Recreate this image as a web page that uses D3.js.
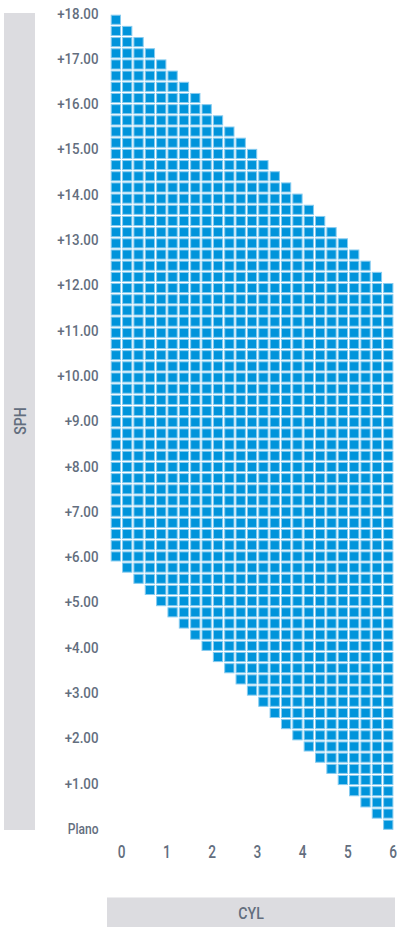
<!DOCTYPE html>
<html>
<head>
<meta charset="utf-8">
<script src="https://cdn.jsdelivr.net/npm/d3@7"></script>
<style>
  html, body { margin: 0; padding: 0; background: #ffffff; }
  svg { display: block; }
  text { font-family: Roboto, "Noto Sans", sans-serif; fill: #636e7e; font-weight: 500; }
</style>
</head>
<body>
<svg id="chart" width="397" height="927"></svg>
<script>
// ---- Data ----
const cylValues = [0, 0.25, 0.5, 0.75, 1, 1.25, 1.5, 1.75, 2, 2.25, 2.5, 2.75, 3,
  3.25, 3.5, 3.75, 4, 4.25, 4.5, 4.75, 5, 5.25, 5.5, 5.75, 6];
const sphMaxByCyl = [18, 17.75, 17.5, 17.25, 17, 16.75, 16.5, 16.25, 16, 15.75, 15.5, 15.25, 15,
  14.75, 14.5, 14.25, 14, 13.75, 13.5, 13.25, 13, 12.75, 12.5, 12.25, 12];
const sphMinByCyl = [6, 5.75, 5.5, 5.25, 5, 4.75, 4.5, 4.25, 4, 3.75, 3.5, 3.25, 3,
  2.75, 2.5, 2.25, 2, 1.75, 1.5, 1.25, 1, 0.75, 0.5, 0.25, 0];
const sphValues = [18, 17.75, 17.5, 17.25, 17, 16.75, 16.5, 16.25, 16, 15.75, 15.5, 15.25,
  15, 14.75, 14.5, 14.25, 14, 13.75, 13.5, 13.25, 13, 12.75, 12.5, 12.25,
  12, 11.75, 11.5, 11.25, 11, 10.75, 10.5, 10.25, 10, 9.75, 9.5, 9.25,
  9, 8.75, 8.5, 8.25, 8, 7.75, 7.5, 7.25, 7, 6.75, 6.5, 6.25,
  6, 5.75, 5.5, 5.25, 5, 4.75, 4.5, 4.25, 4, 3.75, 3.5, 3.25,
  3, 2.75, 2.5, 2.25, 2, 1.75, 1.5, 1.25, 1, 0.75, 0.5, 0.25, 0];
const sphTicks = [18, 17, 16, 15, 14, 13, 12, 11, 10, 9, 8, 7, 6, 5, 4, 3, 2, 1, 0];
const sphTickLabels = ["+18.00", "+17.00", "+16.00", "+15.00", "+14.00", "+13.00", "+12.00",
  "+11.00", "+10.00", "+9.00", "+8.00", "+7.00", "+6.00", "+5.00", "+4.00", "+3.00",
  "+2.00", "+1.00", "Plano"];
const cylTicks = [0, 1, 2, 3, 4, 5, 6];
const cylTickLabels = ["0", "1", "2", "3", "4", "5", "6"];
const xTitle = "CYL";
const yTitle = "SPH";

// ---- Cells ----
const cells = [];
cylValues.forEach((c, i) => {
  sphValues.forEach(s => {
    if (s <= sphMaxByCyl[i] && s >= sphMinByCyl[i]) cells.push({cyl: c, sph: s});
  });
});

const svg = d3.select("#chart");

const x = d3.scaleBand().domain(cylValues).range([110.7, 393.4]).paddingInner(0.093).paddingOuter(0);
const y = d3.scaleBand().domain(sphValues).range([14.7, 829.8]).paddingInner(0.097).paddingOuter(0);

// label scales
const xl = d3.scaleLinear().domain([0, 6]).range([121.6, 393.2]);
const yl = d3.scaleLinear().domain([0, 18]).range([829, 13.8]);

// gray title bars
svg.append("rect").attr("x", 4).attr("y", 13).attr("width", 31).attr("height", 817).attr("fill", "#dcdce0");
svg.append("rect").attr("x", 107).attr("y", 897.5).attr("width", 288).attr("height", 30).attr("fill", "#dcdce0");

svg.append("g").selectAll("rect").data(cells).join("rect")
  .attr("x", d => x(d.cyl) + 0.5)
  .attr("y", d => y(d.sph) + 0.5)
  .attr("width", x.bandwidth() - 1)
  .attr("height", y.bandwidth() - 1)
  .attr("fill", "#0094db")
  .attr("stroke", "#86cbef")
  .attr("stroke-width", 1);

// y labels
svg.append("g").selectAll("text").data(sphTicks).join("text")
  .attr("transform", d => `translate(98.5,${yl(d)}) scale(0.86,1)`)
  .attr("text-anchor", "end")
  .attr("dominant-baseline", "central")
  .attr("font-size", (d, i) => sphTickLabels[i] === "Plano" ? 14 : 15.5)
  .text((d, i) => sphTickLabels[i]);

// x labels
svg.append("g").selectAll("text").data(cylTicks).join("text")
  .attr("transform", d => `translate(${xl(d)},851.5) scale(0.78,1)`)
  .attr("text-anchor", "middle")
  .attr("dominant-baseline", "central")
  .attr("font-size", 17.5)
  .text((d, i) => cylTickLabels[i]);

// titles
svg.append("text")
  .attr("transform", "translate(21,421) rotate(-90) scale(0.86,1)")
  .attr("text-anchor", "middle")
  .attr("dominant-baseline", "central")
  .attr("font-size", 16.5)
  .text(yTitle);

svg.append("text")
  .attr("transform", "translate(251,914) scale(0.86,1)")
  .attr("text-anchor", "middle")
  .attr("dominant-baseline", "central")
  .attr("font-size", 16.5)
  .text(xTitle);
</script>
</body>
</html>
